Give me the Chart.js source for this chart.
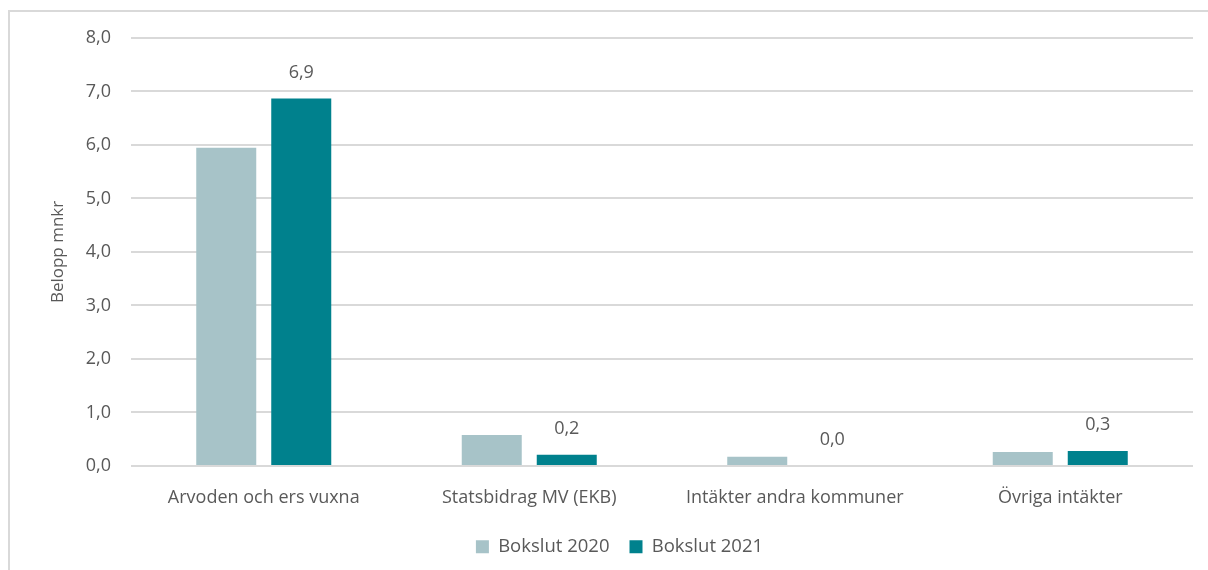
<!DOCTYPE html>
<html>
<head>
<meta charset="utf-8">
<script src="https://cdn.jsdelivr.net/npm/chart.js@4"></script>
<style>
  body { margin: 0; background: #fff; overflow: hidden; }
  .ram { position: absolute; left: 8px; top: 10px; width: 1300px; height: 700px; border: 2px solid #d9d9d9; }
  .yta { position: absolute; left: 0; top: 0; width: 1208px; height: 570px; }
</style>
</head>
<body>
<div class="ram"></div>
<div class="yta"><canvas id="myCanvasIntakter" width="1208" height="570"></canvas></div>
<script>
var kategorier = ['Arvoden och ers vuxna', 'Statsbidrag MV (EKB)', 'Intäkter andra kommuner', 'Övriga intäkter'];
var bokslut2020 = [5.95, 0.58, 0.17, 0.26];
var bokslut2021 = [6.87, 0.21, 0.0, 0.28];
var yTicks = [0, 1, 2, 3, 4, 5, 6, 7, 8];

var textFarg = '#595959';
var typsnitt = "'Open Sans', sans-serif";

var formatera = function(v){
    return v.toFixed(1).replace('.', ',');
};

// etiketter bara for 2021
var etikettPlugin = {
    id: 'etiketter',
    afterLayout: function(chart){
        // legenden sitter lite till hoger i originalet
        chart.legend.left += 23;
        chart.legend.right += 23;
    },
    afterDatasetsDraw: function(chart){
        var ctx = chart.ctx;
        var meta = chart.getDatasetMeta(1);
        ctx.save();
        ctx.fillStyle = textFarg;
        ctx.font = '18px ' + typsnitt;
        ctx.textAlign = 'center';
        ctx.textBaseline = 'middle';
        meta.data.forEach(function(bar, i){
            ctx.fillText(formatera(bokslut2021[i]), bar.x, bar.y - 26);
        });
        ctx.restore();
    }
};

var grafico = new Chart(document.getElementById('myCanvasIntakter'), {
    type: 'bar',
    data: {
        labels: kategorier,
        datasets: [
            { label: 'Bokslut 2020', data: bokslut2020, backgroundColor: '#a7c3c8' },
            { label: 'Bokslut 2021', data: bokslut2021, backgroundColor: '#00818d' }
        ]
    },
    options: {
        responsive: false,
        animation: false,
        categoryPercentage: 0.565,
        barPercentage: 0.8,
        layout: { padding: { top: 38, right: 15, bottom: 4, left: 0 } },
        plugins: {
            legend: {
                position: 'bottom',
                labels: {
                    color: textFarg,
                    font: { family: typsnitt, size: 18.5 },
                    boxWidth: 13,
                    boxHeight: 13,
                    padding: 20
                }
            },
            tooltip: { enabled: false }
        },
        scales: {
            x: {
                afterFit: function(axis){ axis.height -= 4; },
                grid: { display: false },
                border: { display: false },
                ticks: { color: textFarg, font: { family: typsnitt, size: 18 }, padding: 13 }
            },
            y: {
                min: 0,
                max: 8,
                afterBuildTicks: function(axis){
                    axis.ticks = yTicks.map(function(v){ return { value: v }; });
                },
                afterFit: function(axis){ axis.width = 131; },
                grid: { color: '#d9d9d9', lineWidth: 2, drawTicks: false },
                border: { display: false },
                ticks: {
                    color: textFarg,
                    font: { family: typsnitt, size: 18 },
                    padding: 20,
                    callback: function(v){ return formatera(v); }
                },
                title: {
                    display: true,
                    text: 'Belopp mnkr',
                    color: textFarg,
                    font: { family: typsnitt, size: 17 },
                    padding: { top: 48, bottom: 0 }
                }
            }
        }
    },
    plugins: [etikettPlugin]
});
</script>
</body>
</html>
